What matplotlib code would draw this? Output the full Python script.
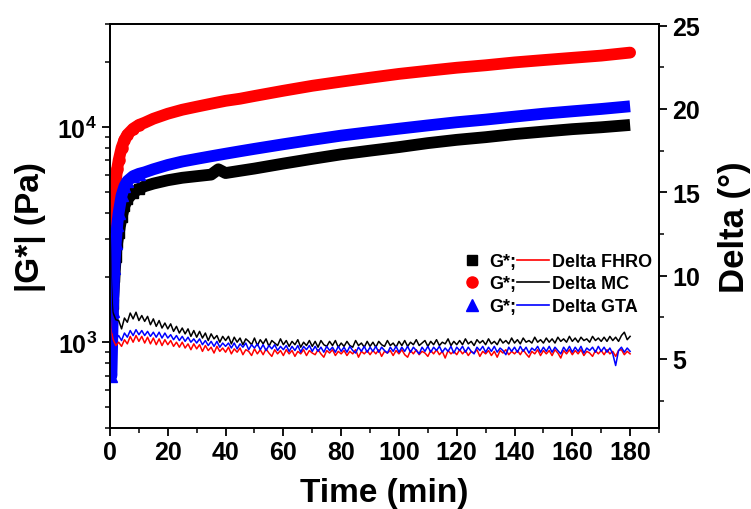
import numpy as np
import matplotlib
matplotlib.use("Agg")
import matplotlib.pyplot as plt
from matplotlib.lines import Line2D
from matplotlib.ticker import MultipleLocator, LogLocator, FixedLocator, NullFormatter

plt.rcParams['font.family'] = ['Liberation Sans', 'DejaVu Sans']
plt.rcParams['font.weight'] = 'bold'
plt.rcParams['mathtext.fontset'] = 'custom'
plt.rcParams['mathtext.rm'] = 'Liberation Sans:bold'
plt.rcParams['mathtext.bf'] = 'Liberation Sans:bold'
plt.rcParams['mathtext.default'] = 'bf'

# ---------------- data ----------------
# |G*| (Pa) sampled at these times (min)
t_g = [0, 0.5, 1, 1.5, 2, 2.5, 3, 4, 5, 6, 8, 10, 12, 15, 20, 25, 30, 35, 37.5, 40,
       45, 50, 60, 70, 80, 90, 100, 110, 120, 130, 140, 150, 160, 170, 180]
g_fhro = [850, 1000, 1500, 2000, 2500, 2900, 3200, 3800, 4300, 4600, 4950, 5150, 5300, 5450,
          5650, 5800, 5900, 6000, 6350, 6100, 6250, 6400, 6750, 7100, 7450, 7750, 8050, 8400,
          8700, 8950, 9250, 9500, 9750, 9950, 10200]
g_mc = [1000, 1900, 3200, 4500, 5600, 6400, 7000, 8000, 8700, 9200, 9800, 10200, 10450, 10900,
        11500, 12000, 12400, 12800, 13000, 13200, 13500, 13900, 14700, 15500, 16200, 16900,
        17600, 18200, 18800, 19300, 19900, 20400, 20900, 21400, 22100]
g_gta = [750, 700, 1400, 2200, 2900, 3500, 4000, 4800, 5300, 5600, 5900, 6050, 6150, 6350,
         6650, 6900, 7100, 7300, 7400, 7500, 7700, 7900, 8300, 8700, 9100, 9450, 9800, 10150,
         10500, 10800, 11150, 11500, 11800, 12100, 12450]

# Delta (deg) sampled at these times (min)
t_d = np.concatenate([[0, 0.25, 0.5, 0.75], np.arange(1, 181)])
d_fhro = [12.0, 9.5, 7.5, 6.5,
          6.2, 5.8, 6.0, 5.75, 6.15, 5.9, 6.35, 6.0, 6.4, 6.05,
          6.35, 5.95, 6.3, 5.9, 6.25, 5.85, 6.2, 5.8, 6.15, 5.85,
          6.1, 5.75, 6.0, 5.7, 6.0, 5.65, 5.9, 5.55, 5.9, 5.6,
          5.85, 5.45, 5.8, 5.5, 5.7, 5.35, 5.75, 5.45, 5.65, 5.4,
          5.7, 5.3, 5.6, 5.4, 5.65, 5.25, 5.55, 5.45, 5.2, 5.6,
          5.3, 5.55, 5.25, 5.6, 5.35, 5.15, 5.55, 5.3, 5.5, 5.2,
          5.55, 5.3, 5.5, 5.15, 5.45, 5.3, 5.55, 5.2, 5.5, 5.35,
          5.25, 5.55, 5.3, 5.1, 5.5, 5.35, 5.55, 5.2, 5.45, 5.3,
          5.5, 5.2, 5.45, 5.3, 5.55, 5.1, 5.45, 5.3, 5.5, 5.25,
          5.5, 5.3, 5.55, 5.15, 5.45, 5.35, 5.5, 5.2, 5.5, 5.3,
          5.55, 5.25, 5.1, 5.5, 5.3, 5.55, 5.25, 5.45, 5.35, 5.15,
          5.5, 5.3, 5.55, 5.25, 5.45, 5.05, 5.5, 5.3, 5.45, 5.25,
          5.55, 5.3, 5.5, 5.2, 5.45, 5.35, 5.55, 5.15, 5.45, 5.3,
          5.5, 5.2, 5.45, 5.1, 5.5, 5.35, 5.55, 5.25, 5.45, 5.3,
          5.5, 5.25, 5.55, 5.3, 5.1, 5.45, 5.3, 5.55, 5.2, 5.5,
          5.3, 5.5, 5.2, 5.55, 5.35, 5.05, 5.5, 5.3, 5.55, 5.25,
          5.5, 5.3, 5.55, 5.2, 5.45, 5.35, 5.15, 5.5, 5.3, 5.5,
          5.25, 5.55, 5.3, 5.45, 5.15, 5.5, 5.55, 5.25, 5.45, 5.3]
d_mc = [13.0, 11.0, 9.5, 8.4,
        7.8, 7.35, 7.3, 6.8, 7.45, 7.2, 7.75, 7.4, 7.8, 7.3,
        7.6, 7.25, 7.55, 7.05, 7.4, 6.95, 7.3, 6.85, 7.15, 6.8,
        7.1, 6.65, 6.95, 6.55, 6.85, 6.5, 6.8, 6.35, 6.7, 6.3,
        6.65, 6.25, 6.55, 6.1, 6.5, 6.2, 6.4, 6.0, 6.35, 6.1,
        6.35, 5.9, 6.3, 6.0, 6.25, 5.85, 6.2, 6.05, 5.85, 6.25,
        5.8, 6.15, 5.9, 6.2, 5.75, 6.1, 5.95, 5.8, 6.2, 5.85,
        6.1, 5.75, 6.05, 5.85, 6.15, 5.7, 6.0, 5.8, 6.1, 5.75,
        6.05, 5.7, 6.1, 5.85, 5.75, 6.05, 5.8, 6.1, 5.7, 5.95,
        5.75, 6.05, 5.8, 5.7, 6.1, 5.8, 5.95, 5.7, 6.05, 5.75,
        6.0, 5.7, 6.05, 5.85, 5.75, 6.1, 5.8, 5.95, 5.7, 6.05,
        5.8, 6.1, 5.75, 6.0, 5.85, 6.15, 5.8, 5.95, 6.1, 5.75,
        6.05, 5.85, 6.15, 5.8, 6.0, 5.9, 6.2, 5.8, 6.05, 5.85,
        6.1, 5.85, 6.2, 5.9, 6.05, 5.8, 6.15, 5.95, 6.1, 5.85,
        6.2, 5.9, 6.05, 5.85, 6.2, 5.95, 6.1, 5.9, 6.25, 5.95,
        6.15, 5.9, 6.25, 6.0, 6.1, 5.95, 6.3, 6.0, 6.15, 5.95,
        6.25, 6.0, 6.2, 5.95, 6.3, 6.05, 6.2, 6.0, 6.35, 6.05,
        6.25, 6.0, 6.3, 6.1, 6.2, 6.0, 6.35, 6.1, 6.25, 6.05,
        6.3, 6.05, 6.35, 6.1, 6.3, 6.05, 6.4, 6.6, 6.15, 6.35]
d_gta = [12.5, 10.0, 8.0, 6.9,
         6.6, 6.15, 6.4, 6.1, 6.55, 6.3, 6.7, 6.4, 6.75, 6.45,
         6.7, 6.4, 6.65, 6.35, 6.6, 6.3, 6.6, 6.25, 6.55, 6.25,
         6.45, 6.15, 6.4, 6.1, 6.35, 6.05, 6.3, 6.0, 6.2, 5.95,
         6.2, 5.85, 6.1, 5.8, 6.05, 5.75, 6.05, 5.7, 5.95, 5.75,
         5.95, 5.65, 5.95, 5.6, 5.9, 5.7, 5.95, 5.55, 5.85, 5.65,
         5.9, 5.55, 5.85, 5.5, 5.8, 5.6, 5.85, 5.5, 5.75, 5.55,
         5.8, 5.45, 5.75, 5.5, 5.8, 5.4, 5.75, 5.55, 5.8, 5.45,
         5.75, 5.45, 5.7, 5.4, 5.75, 5.5, 5.7, 5.4, 5.75, 5.45,
         5.7, 5.4, 5.75, 5.5, 5.35, 5.7, 5.45, 5.75, 5.4, 5.7,
         5.45, 5.75, 5.4, 5.7, 5.5, 5.35, 5.7, 5.45, 5.75, 5.4,
         5.7, 5.45, 5.75, 5.4, 5.7, 5.5, 5.3, 5.7, 5.45, 5.75,
         5.4, 5.7, 5.5, 5.75, 5.4, 5.65, 5.45, 5.75, 5.35, 5.7,
         5.5, 5.75, 5.4, 5.7, 5.45, 5.3, 5.7, 5.5, 5.75, 5.4,
         5.7, 5.45, 5.75, 5.4, 5.65, 5.5, 5.25, 5.7, 5.45, 5.7,
         5.4, 5.75, 5.45, 5.7, 5.35, 5.65, 5.5, 5.75, 5.4, 5.7,
         5.45, 5.75, 5.4, 5.7, 5.5, 5.3, 5.7, 5.45, 5.75, 5.4,
         5.7, 5.45, 5.75, 5.35, 5.65, 5.5, 5.7, 5.4, 5.75, 5.45,
         5.7, 5.4, 5.65, 5.3, 4.6, 5.5, 5.7, 5.4, 5.65, 5.45]

x_ticks = [0, 20, 40, 60, 80, 100, 120, 140, 160, 180]
right_ticks = [5, 10, 15, 20, 25]
legend_g = ["G*;", "G*;", "G*;"]
legend_d = ["Delta FHRO", "Delta MC", "Delta GTA"]

# ---------------- figure ----------------
fig = plt.figure(figsize=(7.51, 5.10), dpi=100)
ax = fig.add_axes([110 / 751, 1 - 429 / 510, 549 / 751, 404 / 510])
ax2 = ax.twinx()

band_lw = 8.5
early = slice(0, 12)
ax.plot(t_g, g_fhro, color='black', lw=band_lw, solid_capstyle='butt',
        marker='s', ms=7, mec='black', mfc='black', markevery=early, zorder=3)
ax.plot(t_g, g_mc, color='red', lw=band_lw, solid_capstyle='round',
        marker='o', ms=8, mec='red', mfc='red', markevery=early, zorder=3)
ax.plot(t_g, g_gta, color='blue', lw=band_lw, solid_capstyle='butt',
        marker='^', ms=8, mec='blue', mfc='blue', markevery=early, zorder=3)

ax2.plot(t_d, d_fhro, color='red', lw=1.1)
ax2.plot(t_d, d_mc, color='black', lw=1.1)
ax2.plot(t_d, d_gta, color='blue', lw=1.1)

ax.set_yscale('log')
ax.set_xlim(0, 190)
ax.set_ylim(400, 30000)
ax2.set_ylim(0.85, 25.1)

ax.xaxis.set_major_locator(FixedLocator(x_ticks))
ax.xaxis.set_minor_locator(MultipleLocator(10))
ax.set_xticklabels([str(v) for v in x_ticks])
ax.yaxis.set_major_locator(FixedLocator([1e3, 1e4]))
ax.set_yticklabels([r'$10^3$', r'$10^4$'])
ax.yaxis.set_minor_locator(LogLocator(base=10, subs=np.arange(2, 10)))
ax.yaxis.set_minor_formatter(NullFormatter())

ax2.yaxis.set_major_locator(FixedLocator(right_ticks))
ax2.yaxis.set_minor_locator(MultipleLocator(2.5))
ax2.set_yticklabels([str(v) for v in right_ticks])

for a in (ax, ax2):
    for sp in a.spines.values():
        sp.set_linewidth(1.3)
ax.tick_params(axis='both', which='major', direction='out', length=6, width=1.3,
               labelsize=18, top=False, right=False)
ax.tick_params(axis='both', which='minor', direction='out', length=3.5, width=1.1,
               top=False, right=False)
ax2.tick_params(axis='y', which='major', direction='out', length=6, width=1.3, labelsize=18)
ax2.tick_params(axis='y', which='minor', direction='out', length=3.5, width=1.1)
ax.tick_params(axis='x', pad=3)

ax.set_xlabel('Time (min)', fontsize=24, fontweight='bold', labelpad=9)
ax.set_ylabel('|G*| (Pa)', fontsize=24, fontweight='bold', labelpad=8)
ax2.set_ylabel('Delta (°)', fontsize=25, fontweight='bold', labelpad=13)

# legends: markers with "G*;" then lines with "Delta ..."
h_g = [Line2D([], [], ls='none', marker='s', ms=7, color='black'),
       Line2D([], [], ls='none', marker='o', ms=8, color='red'),
       Line2D([], [], ls='none', marker='^', ms=8, color='blue')]
h_d = [Line2D([], [], color='red', lw=1.2),
       Line2D([], [], color='black', lw=1.2),
       Line2D([], [], color='blue', lw=1.2)]
leg_kw = dict(frameon=False, borderpad=0, borderaxespad=0, labelspacing=0.3,
              prop={'size': 13, 'weight': 'bold'}, loc='upper left')
leg1 = ax2.legend(h_g, legend_g, bbox_to_anchor=((463 - 110) / 549, 1 - (254 - 25) / 404),
                  handlelength=1.0, handletextpad=0.45, **leg_kw)
ax2.add_artist(leg1)
ax2.legend(h_d, legend_d, bbox_to_anchor=((517 - 110) / 549, 1 - (254 - 25) / 404),
           handlelength=1.75, handletextpad=0.2, **leg_kw)

fig.savefig('out.png', dpi=100)
